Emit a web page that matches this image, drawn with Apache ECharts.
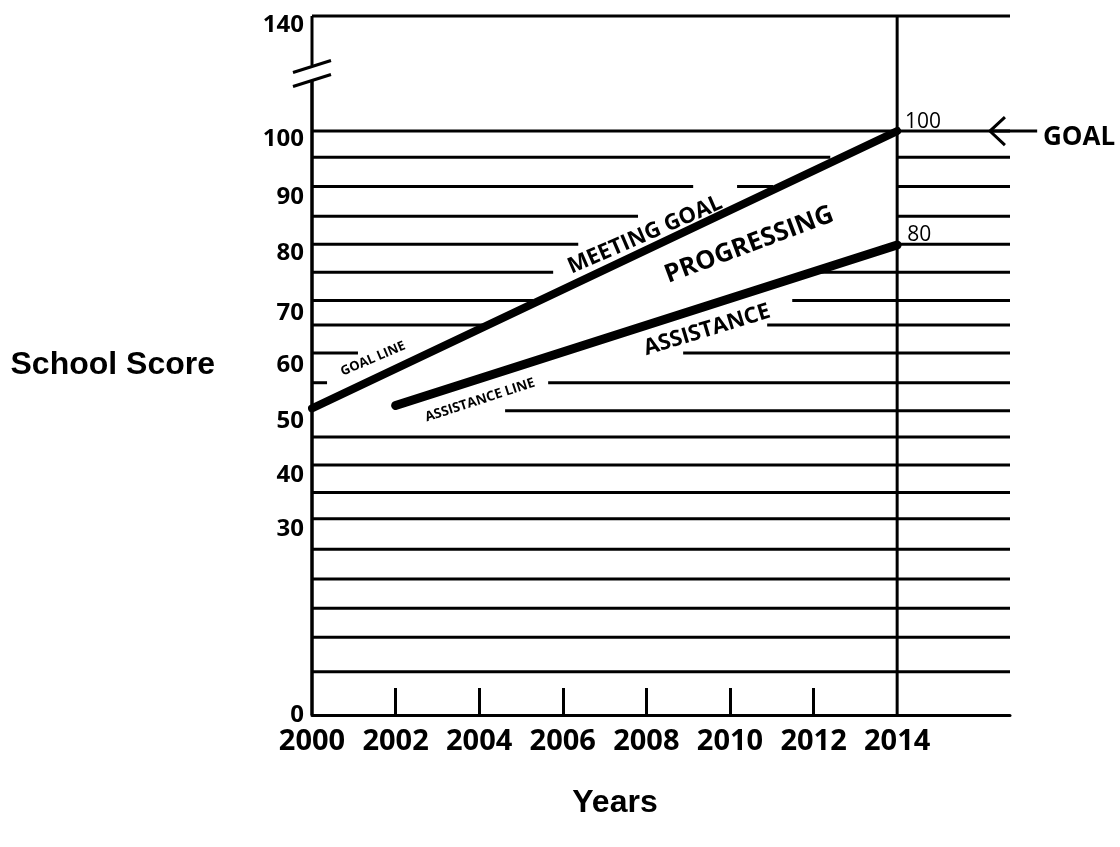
<!DOCTYPE html>
<html>
<head>
<meta charset="utf-8">
<script src="https://cdn.jsdelivr.net/npm/echarts@6/dist/echarts.min.js"></script>
<style>
html,body{margin:0;padding:0;background:#fff;}
#chart{width:1120px;height:847px;}
</style>
</head>
<body>
<div id="chart"></div>
<script>
// ---- data ----
const yearLabels = [2000, 2002, 2004, 2006, 2008, 2010, 2012, 2014];
const innerTickYears = [2002, 2004, 2006, 2008, 2010, 2012];
const scoreTicks = [0, 30, 40, 50, 60, 70, 80, 90, 100, 140];
const goalLine = [[2000, 52.5], [2014, 100]];
const assistanceLine = [[2002, 53], [2014, 80.5]];
const goalYear = 2014;
const xEnd = 2016.7;
// horizontal rule segments: [fromYear, level, toYear]
const ruleSegments = [
  [2000, 140, 2016.7],
  [2000, 100, 2016.7],
  [2000, 95.5, 2012.4], [2014, 95.5, 2016.7],
  [2000, 90.5, 2009.12], [2010.17, 90.5, 2011.03], [2014, 90.5, 2016.7],
  [2000, 85.4, 2007.8], [2014, 85.4, 2016.7],
  [2000, 80.6, 2006.37], [2014, 80.6, 2016.7],
  [2000, 75.8, 2005.77], [2011.99, 75.8, 2016.7],
  [2000, 71.0, 2005.29], [2011.49, 71.0, 2016.7],
  [2000, 66.8, 2004.09], [2010.89, 66.8, 2016.7],
  [2000, 62.0, 2001.1], [2008.88, 62.0, 2016.7],
  [2000, 56.9, 2000.36], [2005.65, 56.9, 2016.7],
  [2004.62, 52.1, 2016.7],
  [2000, 47.6, 2016.7],
  [2000, 42.8, 2016.7],
  [2000, 38.1, 2016.7],
  [2000, 33.6, 2016.7],
  [2000, 28.4, 2016.7],
  [2000, 23.3, 2016.7],
  [2000, 18.3, 2016.7],
  [2000, 13.3, 2016.7],
  [2000, 7.4, 2016.7]
];
const annotationTexts = ['MEETING GOAL', 'PROGRESSING', 'ASSISTANCE', 'GOAL LINE', 'ASSISTANCE LINE', '100', '80', 'GOAL'];

// ---- layout / style (not data) ----
const tickFont = '"Open Sans", "Noto Sans", sans-serif';
const titleFont = '"Liberation Sans", Arial, sans-serif';
// hand-placed label nudges (px, + = down) as drawn in the figure
const labelNudge = {140: 9, 100: 8, 90: 8, 80: 5, 70: 7, 60: 1, 50: -2, 40: -6, 30: -11, 0: 0};
const rich = {};
Object.keys(labelNudge).forEach(k => {
  const d = labelNudge[k];
  rich['n' + k] = {fontFamily: tickFont, fontWeight: 'bold', fontSize: 24, color: '#000',
    padding: [d > 0 ? 2 * d : 0, 0, d < 0 ? -2 * d : 0, 0]};
});
const notes = [
  {at: [2007.97, 82.2], rot: 23.5, size: 22, weight: 'bold', align: 'center'},
  {at: [2010.46, 80.5], rot: 20.5, size: 25.5, weight: 'bold', align: 'center'},
  {at: [2009.45, 65.9], rot: 17, size: 22, weight: 'bold', align: 'center'},
  {at: [2001.46, 61.0], rot: 23, size: 13, weight: 'bold', align: 'center'},
  {at: [2004.02, 53.9], rot: 18, size: 13.5, weight: 'bold', align: 'center'},
  {at: [2014.19, 101.6], rot: 0, size: 21, weight: 'normal', align: 'left'},
  {at: [2014.24, 82.2], rot: 0, size: 21, weight: 'normal', align: 'left'},
  {at: [2017.49, 98.8], rot: 0, size: 26, weight: 'bold', align: 'left'}
];
const arrowTip = [2016.22, 100];
const arrowTail = [2017.35, 100];

const chart = echarts.init(document.getElementById('chart'), null, {renderer: 'canvas'});

const option = {
  animation: false,
  backgroundColor: '#fff',
  grid: {left: 312, right: 110, top: 16, bottom: 132, containLabel: false, outerBoundsMode: 'none'},
  xAxis: {
    type: 'value', min: 2000, max: xEnd,
    name: 'Years', nameLocation: 'middle', nameGap: 72,
    nameTextStyle: {fontFamily: titleFont, fontWeight: 'bold', fontSize: 32, color: '#000', padding: [0, 92, 0, 0]},
    axisLine: {show: true, lineStyle: {color: '#000', width: 3}},
    axisTick: {show: true, inside: true, length: 27, customValues: innerTickYears, lineStyle: {color: '#000', width: 3}},
    axisLabel: {customValues: yearLabels, margin: 12, color: '#000', fontFamily: tickFont, fontWeight: 'bold', fontSize: 29,
      formatter: v => String(v)},
    splitLine: {show: false}
  },
  yAxis: {
    type: 'value', min: 0, max: 140,
    breaks: [{start: 105, end: 135, gap: 9.7}],
    breakArea: {show: false},
    name: 'School Score', nameLocation: 'middle', nameRotate: 0, nameGap: 97,
    nameTextStyle: {fontFamily: titleFont, fontWeight: 'bold', fontSize: 32, color: '#000'},
    axisLine: {show: false},
    axisTick: {show: false},
    axisLabel: {customValues: scoreTicks, margin: 8, color: '#000', fontFamily: tickFont, fontWeight: 'bold', fontSize: 24,
      formatter: v => (labelNudge[v] !== undefined ? '{n' + v + '|' + v + '}' : String(v)), rich: rich},
    splitLine: {show: false}
  },
  series: [
    {
      type: 'custom', name: 'rules', coordinateSystem: 'cartesian2d', clip: false, silent: true, z: 2,
      data: ruleSegments,
      renderItem: (params, api) => {
        const a = api.coord([api.value(0), api.value(1)]);
        const b = api.coord([api.value(2), api.value(1)]);
        return {type: 'line', shape: {x1: a[0], y1: a[1], x2: b[0], y2: b[1]}, style: {stroke: '#000', lineWidth: 3}};
      }
    },
    {
      type: 'custom', name: 'frame', coordinateSystem: 'cartesian2d', clip: false, silent: true, z: 3,
      data: [[2000, 0]],
      renderItem: (params, api) => {
        const bottom = api.coord([2000, 0]);
        const top = api.coord([2000, 140]);
        const bs = api.coord([2000, 105]);
        const be = api.coord([2000, 135]);
        const mid = (bs[1] + be[1]) / 2;
        const x = bottom[0];
        const vb = api.coord([goalYear, 0]);
        const vt = api.coord([goalYear, 140]);
        const st = {stroke: '#000', lineWidth: 3};
        const slash = (cy) => ({type: 'line', shape: {x1: x - 19, y1: cy + 6, x2: x + 19, y2: cy - 6}, style: st});
        return {type: 'group', children: [
          {type: 'line', shape: {x1: x, y1: top[1], x2: x, y2: mid - 8}, style: st},
          {type: 'line', shape: {x1: x, y1: mid + 7, x2: x, y2: bottom[1]}, style: {stroke: '#000', lineWidth: 3.5}},
          slash(mid - 7), slash(mid + 7),
          {type: 'line', shape: {x1: vb[0], y1: vb[1], x2: vt[0], y2: vt[1]}, style: st}
        ]};
      }
    },
    {
      type: 'line', name: 'Goal line', data: goalLine, symbol: 'none', z: 5,
      lineStyle: {color: '#000', width: 8, cap: 'round'}
    },
    {
      type: 'line', name: 'Assistance line', data: assistanceLine, symbol: 'none', z: 5,
      lineStyle: {color: '#000', width: 9, cap: 'round'}
    },
    {
      type: 'custom', name: 'notes', coordinateSystem: 'cartesian2d', clip: false, silent: true, z: 6,
      data: notes.map(n => n.at),
      renderItem: (params, api) => {
        const n = notes[params.dataIndex];
        const p = api.coord([api.value(0), api.value(1)]);
        return {type: 'text', x: p[0], y: p[1], rotation: n.rot * Math.PI / 180,
          style: {text: annotationTexts[params.dataIndex], fill: '#000', fontFamily: tickFont, fontWeight: n.weight,
            fontSize: n.size, align: n.align, verticalAlign: 'middle'}};
      }
    },
    {
      type: 'custom', name: 'arrow', coordinateSystem: 'cartesian2d', clip: false, silent: true, z: 6,
      data: [arrowTip],
      renderItem: (params, api) => {
        const t = api.coord(arrowTip);
        const e = api.coord(arrowTail);
        const st = {stroke: '#000', lineWidth: 3, fill: null};
        return {type: 'group', children: [
          {type: 'line', shape: {x1: t[0], y1: t[1], x2: e[0], y2: e[1]}, style: st},
          {type: 'polyline', shape: {points: [[t[0] + 15, t[1] - 14], [t[0], t[1]], [t[0] + 15, t[1] + 14]]}, style: st}
        ]};
      }
    }
  ]
};
chart.setOption(option);
</script>
</body>
</html>
